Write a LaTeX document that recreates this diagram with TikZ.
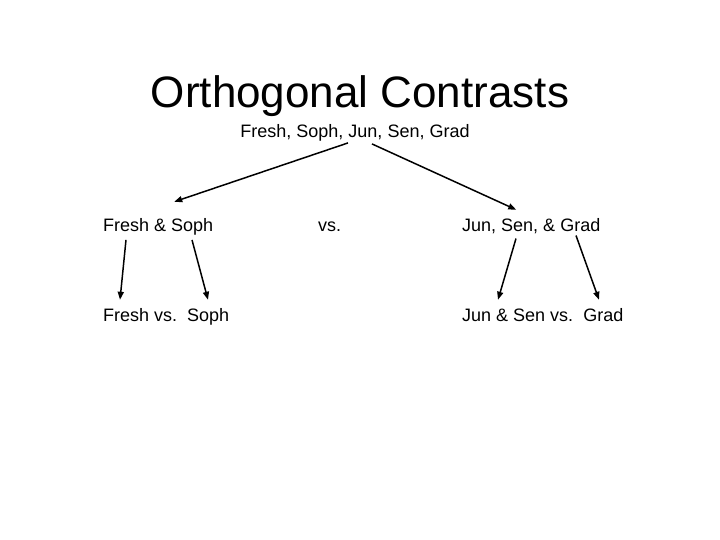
\documentclass[tikz,border=0pt]{standalone}
\usepackage{fontspec}
\setmainfont{Liberation Sans}
\usetikzlibrary{arrows.meta, positioning}
\frenchspacing

\begin{document}
\begin{tikzpicture}[
    x=1pt, y=-1pt,
    heading/.style={inner sep=0pt, font=\fontsize{44}{48}\selectfont},
    group/.style={inner sep=0pt, font=\fontsize{18}{21}\selectfont},
    arrow/.style={line width=1.5pt, -{Triangle[length=8pt,width=6pt]}}
]
\useasboundingbox (0,0) rectangle (720,540);

% Nodes
\node (title) [heading, anchor=base] at (360,108) {Orthogonal Contrasts};
\node (all) [group, anchor=base] at (355,138) {Fresh, Soph, Jun, Sen, Grad};
\node (fs) [group, anchor=base west] at (103,231) {Fresh \& Soph};
\node (vs) [group, anchor=base west] at (318,231) {vs.};
\node (jsg) [group, anchor=base west] at (462,231) {Jun, Sen, \& Grad};
\node (fvs) [group, anchor=base west] at (103,321) {Fresh vs.\ \ Soph};
\node (jsvg) [group, anchor=base west] at (462,321) {Jun \& Sen vs.\ \ Grad};

% Arrows
\draw [arrow] ([shift={(-7,1)}]all.south) -- ([shift={(16,-16)}]fs.north);
\draw [arrow] ([shift={(17,2)}]all.south) -- ([shift={(-15,-8)}]jsg.north);
\draw [arrow] ([shift={(23,5)}]fs.south west) -- ([shift={(17,-8)}]fvs.north west);
\draw [arrow] ([shift={(89,5)}]fs.south west) -- ([shift={(105,-8)}]fvs.north west);
\draw [arrow] ([shift={(54,5)}]jsg.south west) -- ([shift={(36,-8)}]jsvg.north west);
\draw [arrow] ([shift={(114,2)}]jsg.south west) -- ([shift={(137,-8)}]jsvg.north west);

\end{tikzpicture}
\end{document}
